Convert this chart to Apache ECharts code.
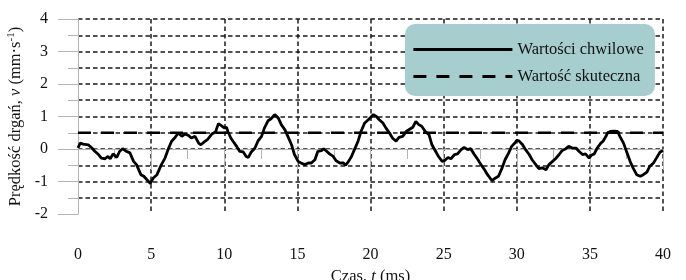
<!DOCTYPE html>
<html>
<head>
<meta charset="utf-8">
<script src="https://cdn.jsdelivr.net/npm/echarts@6/dist/echarts.min.js"></script>
<style>
  html, body { margin: 0; padding: 0; background: #fff; }
  #chart { width: 686px; height: 280px; }
</style>
</head>
<body>
<div id="chart"></div>
<script>
// czas (ms)
var czas = [0, 0.15, 0.35, 0.7, 0.95, 1.15, 1.4, 1.6, 1.85, 2.05, 2.2, 2.4, 2.65, 2.85, 3.05, 3.3, 3.55, 3.8, 4.0, 4.3,
    4.5, 4.7, 4.95, 5.15, 5.4, 5.5, 5.7, 5.95, 6.2, 6.4, 6.65, 6.85, 7.1, 7.3, 7.55, 7.75, 8.0, 8.25, 8.4, 8.7,
    8.85, 9.15, 9.4, 9.6, 9.8, 10.0, 10.15, 10.25, 10.45, 10.6, 10.85, 11.05, 11.3, 11.5, 11.65, 11.85, 12.1, 12.3, 12.55, 12.75,
    13.0, 13.2, 13.45, 13.7, 13.9, 14.15, 14.35, 14.6, 14.8, 15.05, 15.25, 15.5, 15.75, 15.95, 16.2, 16.4, 16.65, 16.8, 17.0, 17.2,
    17.45, 17.65, 17.9, 18.15, 18.3, 18.5, 18.7, 18.9, 19.15, 19.35, 19.6, 19.85, 19.95, 20.2, 20.4, 20.6, 20.85, 21.05, 21.3, 21.5,
    21.75, 21.95, 22.2, 22.45, 22.65, 22.9, 23.1, 23.3, 23.5, 23.75, 24.0, 24.2, 24.45, 24.65, 24.9, 25.05, 25.3, 25.5, 25.75, 25.95,
    26.2, 26.4, 26.65, 26.85, 27.1, 27.35, 27.55, 27.8, 28.0, 28.3, 28.55, 28.75, 29.0, 29.2, 29.45, 29.65, 29.9, 30.0, 30.15, 30.4,
    30.6, 30.85, 31.05, 31.3, 31.5, 31.75, 32.0, 32.2, 32.45, 32.65, 32.9, 33.1, 33.35, 33.55, 33.8, 34.05, 34.25, 34.5, 34.7, 34.95,
    35.1, 35.3, 35.5, 35.75, 35.9, 36.1, 36.2, 36.4, 36.65, 36.9, 37.05, 37.3, 37.5, 37.75, 37.95, 38.2, 38.45, 38.65, 38.9, 39.1,
    39.35, 39.55, 39.8, 40.0];
// wartości chwilowe (mm/s)
var predkosc = [0.03, 0.18, 0.15, 0.13, 0.03, -0.07, -0.17, -0.28, -0.3, -0.23, -0.3, -0.15, -0.26, -0.07, 0.01, -0.07, -0.12, -0.38, -0.48, -0.79,
    -0.84, -0.94, -1.06, -0.89, -0.79, -0.78, -0.48, -0.28, 0.03, 0.24, 0.36, 0.49, 0.39, 0.46, 0.42, 0.34, 0.39, 0.18, 0.13, 0.24,
    0.29, 0.46, 0.52, 0.78, 0.72, 0.65, 0.67, 0.54, 0.34, 0.24, 0.08, -0.07, -0.09, -0.23, -0.26, -0.09, 0.03, 0.24, 0.39, 0.65,
    0.87, 0.93, 1.06, 0.95, 0.75, 0.59, 0.39, 0.13, -0.17, -0.38, -0.43, -0.48, -0.43, -0.43, -0.33, -0.07, -0.05, 0.01, -0.07, -0.15,
    -0.23, -0.36, -0.43, -0.43, -0.5, -0.38, -0.23, -0.02, 0.24, 0.54, 0.8, 0.9, 0.93, 1.06, 1.0, 0.9, 0.8, 0.65, 0.49, 0.34,
    0.24, 0.36, 0.39, 0.54, 0.6, 0.67, 0.85, 0.75, 0.7, 0.54, 0.44, 0.13, -0.07, -0.23, -0.38, -0.36, -0.26, -0.3, -0.17, -0.15,
    -0.02, 0.05, -0.02, 0.01, -0.17, -0.33, -0.48, -0.64, -0.79, -0.97, -0.89, -0.84, -0.58, -0.33, -0.12, 0.08, 0.2, 0.27, 0.25, 0.13,
    -0.02, -0.17, -0.33, -0.48, -0.6, -0.58, -0.64, -0.48, -0.38, -0.3, -0.17, -0.05, 0.01, 0.08, 0.03, 0.03, -0.07, -0.17, -0.15, -0.28,
    -0.19, -0.15, 0.03, 0.18, 0.24, 0.39, 0.49, 0.54, 0.55, 0.54, 0.39, 0.18, -0.07, -0.38, -0.58, -0.79, -0.84, -0.79, -0.71, -0.53,
    -0.43, -0.28, -0.09, -0.05];
// wartość skuteczna
var skuteczna = 0.5;
var czasZakres = [0, 40];
var nazwy = ['Wartości chwilowe', 'Wartość skuteczna'];

(function () {
    let myEchart = echarts.init(document.getElementById('chart'));
    var font = 'Liberation Serif';
    var gray = '#b4b4b4';
    var chwilowe = czas.map(function (t, i) { return [t, predkosc[i]]; });
    var rms = czasZakres.map(function (t) { return [t, skuteczna]; });
    var dashGrid = {
        color: '#1a1a1a',
        width: 1.5,
        type: [4.5, 3]
    };
    let option = {
        backgroundColor: '#fff',
        animation: false,
        textStyle: { fontFamily: font },
        grid: {
            left: 78,
            right: 23,
            top: 19,
            bottom: 66,
            outerBoundsMode: 'none'
        },
        legend: {
            data: nazwy,
            orient: 'vertical',
            left: 405,
            top: 24,
            padding: [17, 11, 11, 7],
            itemGap: 10,
            itemWidth: 99,
            itemHeight: 14,
            backgroundColor: '#a6cece',
            borderRadius: 10,
            itemStyle: { opacity: 0 },
            lineStyle: { width: 2.8 },
            textStyle: {
                fontFamily: font,
                fontSize: 16.5,
                color: '#111'
            }
        },
        xAxis: {
            type: 'value',
            min: 0,
            max: 40,
            interval: 5,
            name: '{n|Czas, }{i|t}{n| (ms)}',
            nameLocation: 'middle',
            nameGap: 46,
            nameTextStyle: {
                rich: {
                    n: { fontFamily: font, fontSize: 16.5, color: '#111' },
                    i: { fontFamily: font, fontSize: 16.5, fontStyle: 'italic', color: '#111' }
                }
            },
            axisLine: { lineStyle: { color: gray, width: 1 } },
            axisTick: { length: 21, lineStyle: { color: gray } },
            minorTick: { show: true, splitNumber: 2, length: 10, lineStyle: { color: gray } },
            axisLabel: { margin: 33, fontSize: 16, color: '#111', fontFamily: font },
            splitLine: { show: true, showMinLine: false, lineStyle: dashGrid }
        },
        yAxis: {
            type: 'value',
            min: -2,
            max: 4,
            interval: 1,
            name: '{n|Prędkość drgań, }{i|v}{n| (mm·s}{s|-1}{n|)}',
            nameLocation: 'middle',
            nameGap: 44,
            nameTextStyle: {
                rich: {
                    n: { fontFamily: font, fontSize: 16.5, color: '#111', lineHeight: 19 },
                    i: { fontFamily: font, fontSize: 16.5, fontStyle: 'italic', color: '#111', lineHeight: 19 },
                    s: { fontFamily: font, fontSize: 11, color: '#111', verticalAlign: 'top', lineHeight: 19 }
                }
            },
            axisLine: { show: true, lineStyle: { color: gray, width: 1 } },
            axisTick: { show: true, length: 20, lineStyle: { color: gray } },
            minorTick: { show: true, splitNumber: 2, length: 10, lineStyle: { color: gray } },
            axisLabel: { margin: 30, fontSize: 16, color: '#111', fontFamily: font },
            splitLine: { show: true, showMinLine: false, lineStyle: dashGrid },
            minorSplitLine: { show: true, lineStyle: dashGrid }
        },
        series: [
            {
                name: nazwy[0],
                type: 'line',
                data: chwilowe,
                symbol: 'none',
                z: 4,
                lineStyle: { color: '#000', width: 2.8 },
                itemStyle: { color: '#000' }
            },
            {
                name: nazwy[1],
                type: 'line',
                data: rms,
                symbol: 'none',
                z: 3,
                lineStyle: { color: '#000', width: 2.5, type: [13, 10] },
                itemStyle: { color: '#000' }
            }
        ]
    };
    myEchart.setOption(option);
})();
</script>
</body>
</html>
